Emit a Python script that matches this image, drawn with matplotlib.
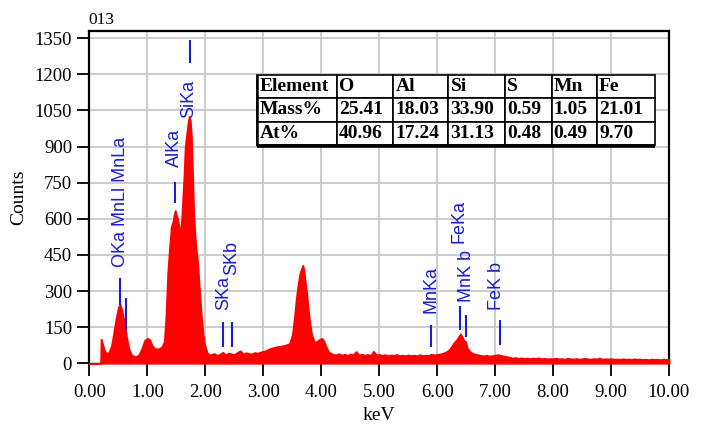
import matplotlib
matplotlib.use('Agg')
import matplotlib.pyplot as plt

# spectrum (keV, counts)
energy = [0.00, 0.19, 0.20, 0.22, 0.25, 0.28, 0.32, 0.35, 0.38, 0.42, 0.46, 0.50, 0.53, 0.56, 0.60,
          0.64, 0.68, 0.72, 0.76, 0.80, 0.85, 0.90, 0.95, 1.00, 1.04, 1.08, 1.12, 1.17, 1.21, 1.25,
          1.29, 1.32, 1.35, 1.38, 1.41, 1.44, 1.46, 1.48, 1.50, 1.52, 1.55, 1.57, 1.59, 1.61, 1.63,
          1.65, 1.68, 1.70, 1.72, 1.74, 1.76, 1.78, 1.80, 1.83, 1.87, 1.90, 1.93, 1.96, 1.99, 2.03,
          2.07, 2.10, 2.15, 2.20, 2.25, 2.30, 2.35, 2.40, 2.45, 2.50, 2.55, 2.60, 2.65, 2.70, 2.75,
          2.80, 2.85, 2.90, 2.95, 3.00, 3.05, 3.10, 3.15, 3.20, 3.25, 3.30, 3.35, 3.40, 3.45, 3.50,
          3.53, 3.57, 3.60, 3.63, 3.66, 3.68, 3.70, 3.72, 3.75, 3.77, 3.80, 3.83, 3.86, 3.89, 3.93,
          3.97, 4.01, 4.04, 4.08, 4.12, 4.16, 4.20, 4.25, 4.30, 4.35, 4.40, 4.45, 4.50, 4.55, 4.60,
          4.65, 4.70, 4.75, 4.80, 4.85, 4.90, 4.95, 5.00, 5.05, 5.10, 5.15, 5.20, 5.25, 5.30, 5.35,
          5.40, 5.45, 5.50, 5.55, 5.60, 5.65, 5.70, 5.75, 5.80, 5.85, 5.90, 5.95, 6.00, 6.05, 6.10,
          6.17, 6.22, 6.28, 6.34, 6.38, 6.40, 6.43, 6.46, 6.49, 6.52, 6.57, 6.62, 6.70, 6.75, 6.80,
          6.85, 6.90, 6.95, 7.00, 7.05, 7.10, 7.15, 7.20, 7.25, 7.30, 7.35, 7.40, 7.45, 7.50, 7.55,
          7.60, 7.65, 7.70, 7.75, 7.80, 7.85, 7.90, 7.95, 8.00, 8.05, 8.10, 8.15, 8.20, 8.25, 8.30,
          8.35, 8.40, 8.45, 8.50, 8.55, 8.60, 8.65, 8.70, 8.75, 8.80, 8.85, 8.90, 8.95, 9.00, 9.05,
          9.10, 9.15, 9.20, 9.25, 9.30, 9.35, 9.40, 9.45, 9.50, 9.55, 9.60, 9.65, 9.70, 9.75, 9.80,
          9.85, 9.90, 9.95, 10.00]
counts = [0, 0, 100, 85, 60, 45, 40, 55, 75, 130, 190, 235, 245, 220, 170,
          110, 60, 38, 30, 28, 35, 60, 95, 104, 98, 75, 62, 60, 62, 70,
          90, 200, 380, 480, 566, 590, 620, 635, 615, 600, 560, 550, 600, 690, 780,
          898, 960, 1000, 1025, 1010, 940, 780, 620, 500, 410, 300, 200, 120, 75, 45,
          35, 36, 41, 33, 38, 46, 35, 43, 39, 37, 45, 52, 40, 44, 41,
          39, 45, 42, 47, 50, 54, 60, 64, 67, 70, 71, 74, 77, 82, 120,
          180, 275, 330, 373, 395, 407, 390, 345, 290, 234, 175, 125, 100, 86, 92,
          100, 104, 95, 70, 50, 42, 38, 35, 40, 34, 38, 33, 39, 37, 49,
          35, 38, 34, 37, 33, 50, 35, 37, 33, 36, 32, 35, 33, 37, 32,
          34, 31, 35, 32, 34, 31, 36, 32, 34, 33, 38, 35, 37, 39, 42,
          50, 60, 83, 100, 115, 123, 110, 96, 90, 62, 48, 40, 36, 33, 31,
          34, 30, 32, 34, 36, 33, 30, 28, 25, 22, 24, 21, 23, 20, 22,
          19, 22, 20, 23, 19, 21, 18, 20, 19, 22, 18, 20, 17, 21, 19,
          18, 20, 17, 19, 21, 18, 17, 20, 18, 22, 17, 19, 18, 20, 17,
          18, 16, 19, 17, 18, 16, 19, 17, 18, 16, 17, 15, 18, 16, 17,
          15, 18, 16, 17]

# peak markers and their labels
peak_names = ['OKa MnLl MnLa', '', 'AlKa', 'SiKa', 'SKa', 'SKb', 'MnKa', 'FeKa', 'MnK b', 'FeK b']
peak_kev = [0.525, 0.63, 1.48, 1.735, 2.31, 2.46, 5.90, 6.40, 6.49, 7.08]
line_lo = [241, 137, 665, 1246, 68, 68, 68, 137, 109, 75]
line_hi = [353, 270, 753, 1342, 172, 172, 158, 237, 199, 178]
text_kev = [0.54, 0.63, 1.47, 1.72, 2.31, 2.46, 5.90, 6.37, 6.50, 7.03]
text_y = [400, 0, 814, 1020, 220, 366, 207, 500, 253, 220]

elements = ['Element', 'O', 'Al', 'Si', 'S', 'Mn', 'Fe']
mass_pct = ['25.41', '18.03', '33.90', '0.59', '1.05', '21.01']
at_pct = ['40.96', '17.24', '31.13', '0.48', '0.49', '9.70']

plt.rcParams['font.family'] = ['Liberation Serif', 'DejaVu Serif']
fig = plt.figure(figsize=(7.04, 4.25), dpi=100)
ax = fig.add_axes([0.1271, 0.1452, 0.8232, 0.7819])

ax.fill_between(energy, counts, 0, color='#ff0000', edgecolor='#ff0000', linewidth=1.2,
                clip_on=False, zorder=3)

blue = '#1c1ccc'
ax.vlines(peak_kev, line_lo, line_hi, colors=blue, linewidth=1.5, zorder=4)
for name, xk, yb in zip(peak_names, text_kev, text_y):
    if name:
        ax.text(xk, yb, name, rotation=90, ha='center', va='bottom', color=blue,
                fontsize=13, family=['Liberation Sans', 'DejaVu Sans'], zorder=4)

ax.set_xlim(0, 10)
ax.set_ylim(0, 1380)
ax.set_xticks(range(11))
ax.set_xticklabels(['%.2f' % v for v in range(11)])
ax.set_yticks(range(0, 1351, 150))
ax.grid(True, color='#c8c8c8', linewidth=1.3, zorder=0)
ax.set_axisbelow(True)
ax.tick_params(axis='both', direction='out', length=9, width=1.3, labelsize=13.5)
ax.tick_params(axis='x', pad=6)
ax.spines['bottom'].set_visible(False)
for s in ['left', 'top', 'right']:
    ax.spines[s].set_linewidth(1.6)

ax.set_xlabel('keV', fontsize=14, labelpad=4)
ax.set_ylabel('Counts', fontsize=14, labelpad=5)
fig.text(88 / 704, 1 - 20 / 425, '013', fontsize=12.5, ha='left', va='center')

rows = [elements, ['Mass%'] + mass_pct, ['At%'] + at_pct]
widths = [80, 56.7, 55, 56.7, 46.7, 45, 58.3]
tot = sum(widths)
tb_x, tb_y, tb_w, tb_h = 0.2885, 0.657, 0.6873, 0.2106
tbl = ax.table(cellText=rows, cellLoc='left', colWidths=[w / tot for w in widths],
               bbox=[tb_x, tb_y, tb_w, tb_h], zorder=5)
tbl.auto_set_font_size(False)
for (r, c), cell in tbl.get_celld().items():
    cell.set_edgecolor('black')
    cell.set_linewidth(1.2)
    cell.set_facecolor('white')
    cell.PAD = 0.04
    cell.get_text().set_fontsize(14)
    cell.get_text().set_fontweight('bold')
# heavier lower edge of the table
ax.plot([tb_x, tb_x + tb_w], [tb_y - 0.004, tb_y - 0.004], transform=ax.transAxes,
        color='black', linewidth=2.6, solid_capstyle='butt', zorder=6)
ax.plot([tb_x, tb_x], [tb_y - 0.004, tb_y + tb_h], transform=ax.transAxes,
        color='black', linewidth=1.8, solid_capstyle='butt', zorder=6)

fig.savefig('out.png', dpi=100)
